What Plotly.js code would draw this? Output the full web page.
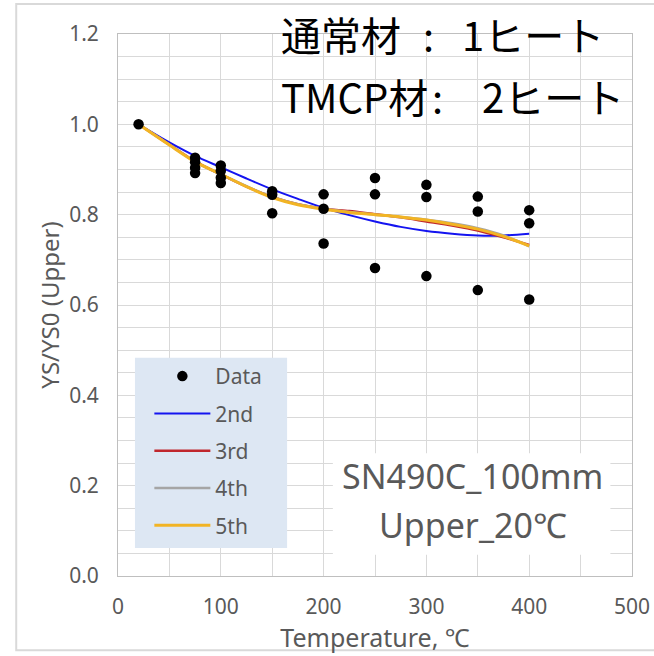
<!DOCTYPE html>
<html>
<head>
<meta charset="utf-8">
<script src="https://cdn.plot.ly/plotly-3.0.1.min.js"></script>
<style>
  html, body { margin: 0; padding: 0; background: #ffffff; }
  #chart { width: 654px; height: 656px; }
</style>
</head>
<body>
<div id="chart"></div>
<script>
// Measured yield-strength ratio (upper position) against test temperature
var tempData = [20, 75, 75, 75, 75, 100, 100, 100, 100, 150, 150, 150,
                200, 200, 200, 250, 250, 250, 300, 300, 300, 350, 350, 350, 400, 400, 400];
var ysData = [1.000, 0.926, 0.916, 0.904, 0.892, 0.909, 0.897, 0.882, 0.870, 0.852, 0.844, 0.803,
              0.845, 0.813, 0.736, 0.881, 0.845, 0.682, 0.866, 0.839, 0.664, 0.840, 0.807, 0.633,
              0.810, 0.781, 0.612];

// Polynomial fit curves (2nd to 5th order), sampled along temperature
var tempFit = [20, 50, 75, 100, 125, 150, 175, 200, 225, 250, 275, 300, 325, 350, 375, 400];
var fit2nd = [1.000, 0.960, 0.930, 0.905, 0.880, 0.856, 0.835, 0.815, 0.799, 0.785, 0.773, 0.764, 0.758, 0.754, 0.754, 0.758];
var fit3rd = [1.000, 0.955, 0.918, 0.889, 0.862, 0.839, 0.823, 0.813, 0.808, 0.801, 0.794, 0.785, 0.776, 0.765, 0.750, 0.733];
var fit4th = [1.000, 0.955, 0.917, 0.889, 0.863, 0.839, 0.823, 0.813, 0.806, 0.800, 0.795, 0.789, 0.781, 0.770, 0.754, 0.730];
var fit5th = [1.000, 0.954, 0.917, 0.890, 0.862, 0.838, 0.822, 0.812, 0.805, 0.800, 0.795, 0.788, 0.779, 0.768, 0.752, 0.731];

var seriesNames = ['Data', '2nd', '3rd', '4th', '5th'];
var xTickVals = [0, 100, 200, 300, 400, 500];
var yTickVals = [0.0, 0.2, 0.4, 0.6, 0.8, 1.0, 1.2];

var grey = '#595959';
var gridColor = '#d9d9d9';
var latin = 'Noto Sans, Open Sans, sans-serif';
var cjk = 'Noto Sans CJK JP, sans-serif';
var tickFont = {family: latin, size: 21, color: grey};

function fitTrace(name, ys, color, width, rank) {
  return {
    x: tempFit, y: ys, name: name, type: 'scatter', mode: 'lines',
    line: {color: color, width: width, shape: 'spline', smoothing: 0.8},
    legendgroup: name, legendrank: rank, hoverinfo: 'skip'
  };
}

var traces = [
  fitTrace(seriesNames[1], fit2nd, '#1414f0', 2, 2),
  fitTrace(seriesNames[2], fit3rd, '#c0272d', 2.5, 3),
  fitTrace(seriesNames[3], fit4th, '#a5a5a5', 2.5, 4),
  fitTrace(seriesNames[4], fit5th, '#f2b424', 3, 5),
  {
    x: tempData, y: ysData, name: seriesNames[0], type: 'scatter', mode: 'markers',
    marker: {color: '#000000', size: 10.5},
    legendgroup: seriesNames[0], legendrank: 1
  }
];

function heading(text, x, y, anchor) {
  return {text: text, xref: 'paper', yref: 'paper', x: x, y: y,
          xanchor: anchor, yanchor: 'middle', showarrow: false,
          font: {family: cjk, size: 40, color: '#000000'}};
}

function caption(text, y) {
  return {text: text, xref: 'x', yref: 'y', x: 345, y: y,
          xanchor: 'center', yanchor: 'middle', showarrow: false,
          font: {family: latin, size: 34, color: grey}};
}

var layout = {
  width: 654, height: 656,
  margin: {l: 118, r: 22, t: 34, b: 80},
  paper_bgcolor: '#ffffff', plot_bgcolor: '#ffffff',
  showlegend: true,
  legend: {
    x: 0.061, y: 0.406, xanchor: 'left', yanchor: 'top',
    bgcolor: 'rgba(0,0,0,0)', borderwidth: 0, itemwidth: 56,
    font: {family: latin, size: 21, color: grey},
    traceorder: 'grouped', tracegroupgap: 7
  },
  xaxis: {
    range: [0, 500], tickvals: xTickVals, ticks: '',
    showgrid: true, gridcolor: gridColor, gridwidth: 1,
    minor: {dtick: 50, showgrid: true, gridcolor: gridColor, gridwidth: 1, ticks: ''},
    showline: true, linecolor: '#bfbfbf', linewidth: 1, mirror: true,
    zeroline: false, tickfont: tickFont, ticklabelstandoff: 12,
    title: {text: 'Temperature, ℃', font: {family: latin, size: 25, color: grey}, standoff: 2}
  },
  yaxis: {
    range: [0, 1.2], tickvals: yTickVals, tickformat: '.1f', ticks: '',
    showgrid: true, gridcolor: gridColor, gridwidth: 1,
    minor: {dtick: 0.05, showgrid: true, gridcolor: gridColor, gridwidth: 1, ticks: ''},
    showline: true, linecolor: '#bfbfbf', linewidth: 1, mirror: true,
    zeroline: false, tickfont: tickFont, ticklabelstandoff: 14,
    title: {text: 'YS/YS0 (Upper)', font: {family: latin, size: 24, color: grey}, standoff: 2}
  },
  shapes: [
    // outer chart frame
    {type: 'rect', xref: 'paper', yref: 'paper', x0: -0.198, x1: 1.08, y0: -0.137, y1: 1.0555,
     line: {color: '#d9d9d9', width: 2}, fillcolor: 'rgba(0,0,0,0)', layer: 'below'},
    // legend panel
    {type: 'rect', xref: 'x', yref: 'y', x0: 16.5, x1: 164.5, y0: 0.062, y1: 0.483,
     line: {width: 0}, fillcolor: '#dde7f3', layer: 'above'},
    // white panel behind the specimen caption
    {type: 'rect', xref: 'x', yref: 'y', x0: 209, x1: 479, y0: 0.047, y1: 0.272,
     line: {width: 0}, fillcolor: '#ffffff', layer: 'above'}
  ],
  annotations: [
    heading('通常材', 0.313, 1.0, 'left'),
    heading(':', 0.604, 1.0, 'center'),
    heading('1ヒート', 0.949, 1.0, 'right'),
    heading('TMCP材', 0.313, 0.885, 'left'),
    heading(':', 0.622, 0.885, 'center'),
    heading('2ヒート', 0.988, 0.885, 'right'),
    caption('SN490C_100mm', 0.222),
    caption('Upper_20℃', 0.113)
  ]
};

Plotly.newPlot('chart', traces, layout, {displayModeBar: false, staticPlot: true});
</script>
</body>
</html>
